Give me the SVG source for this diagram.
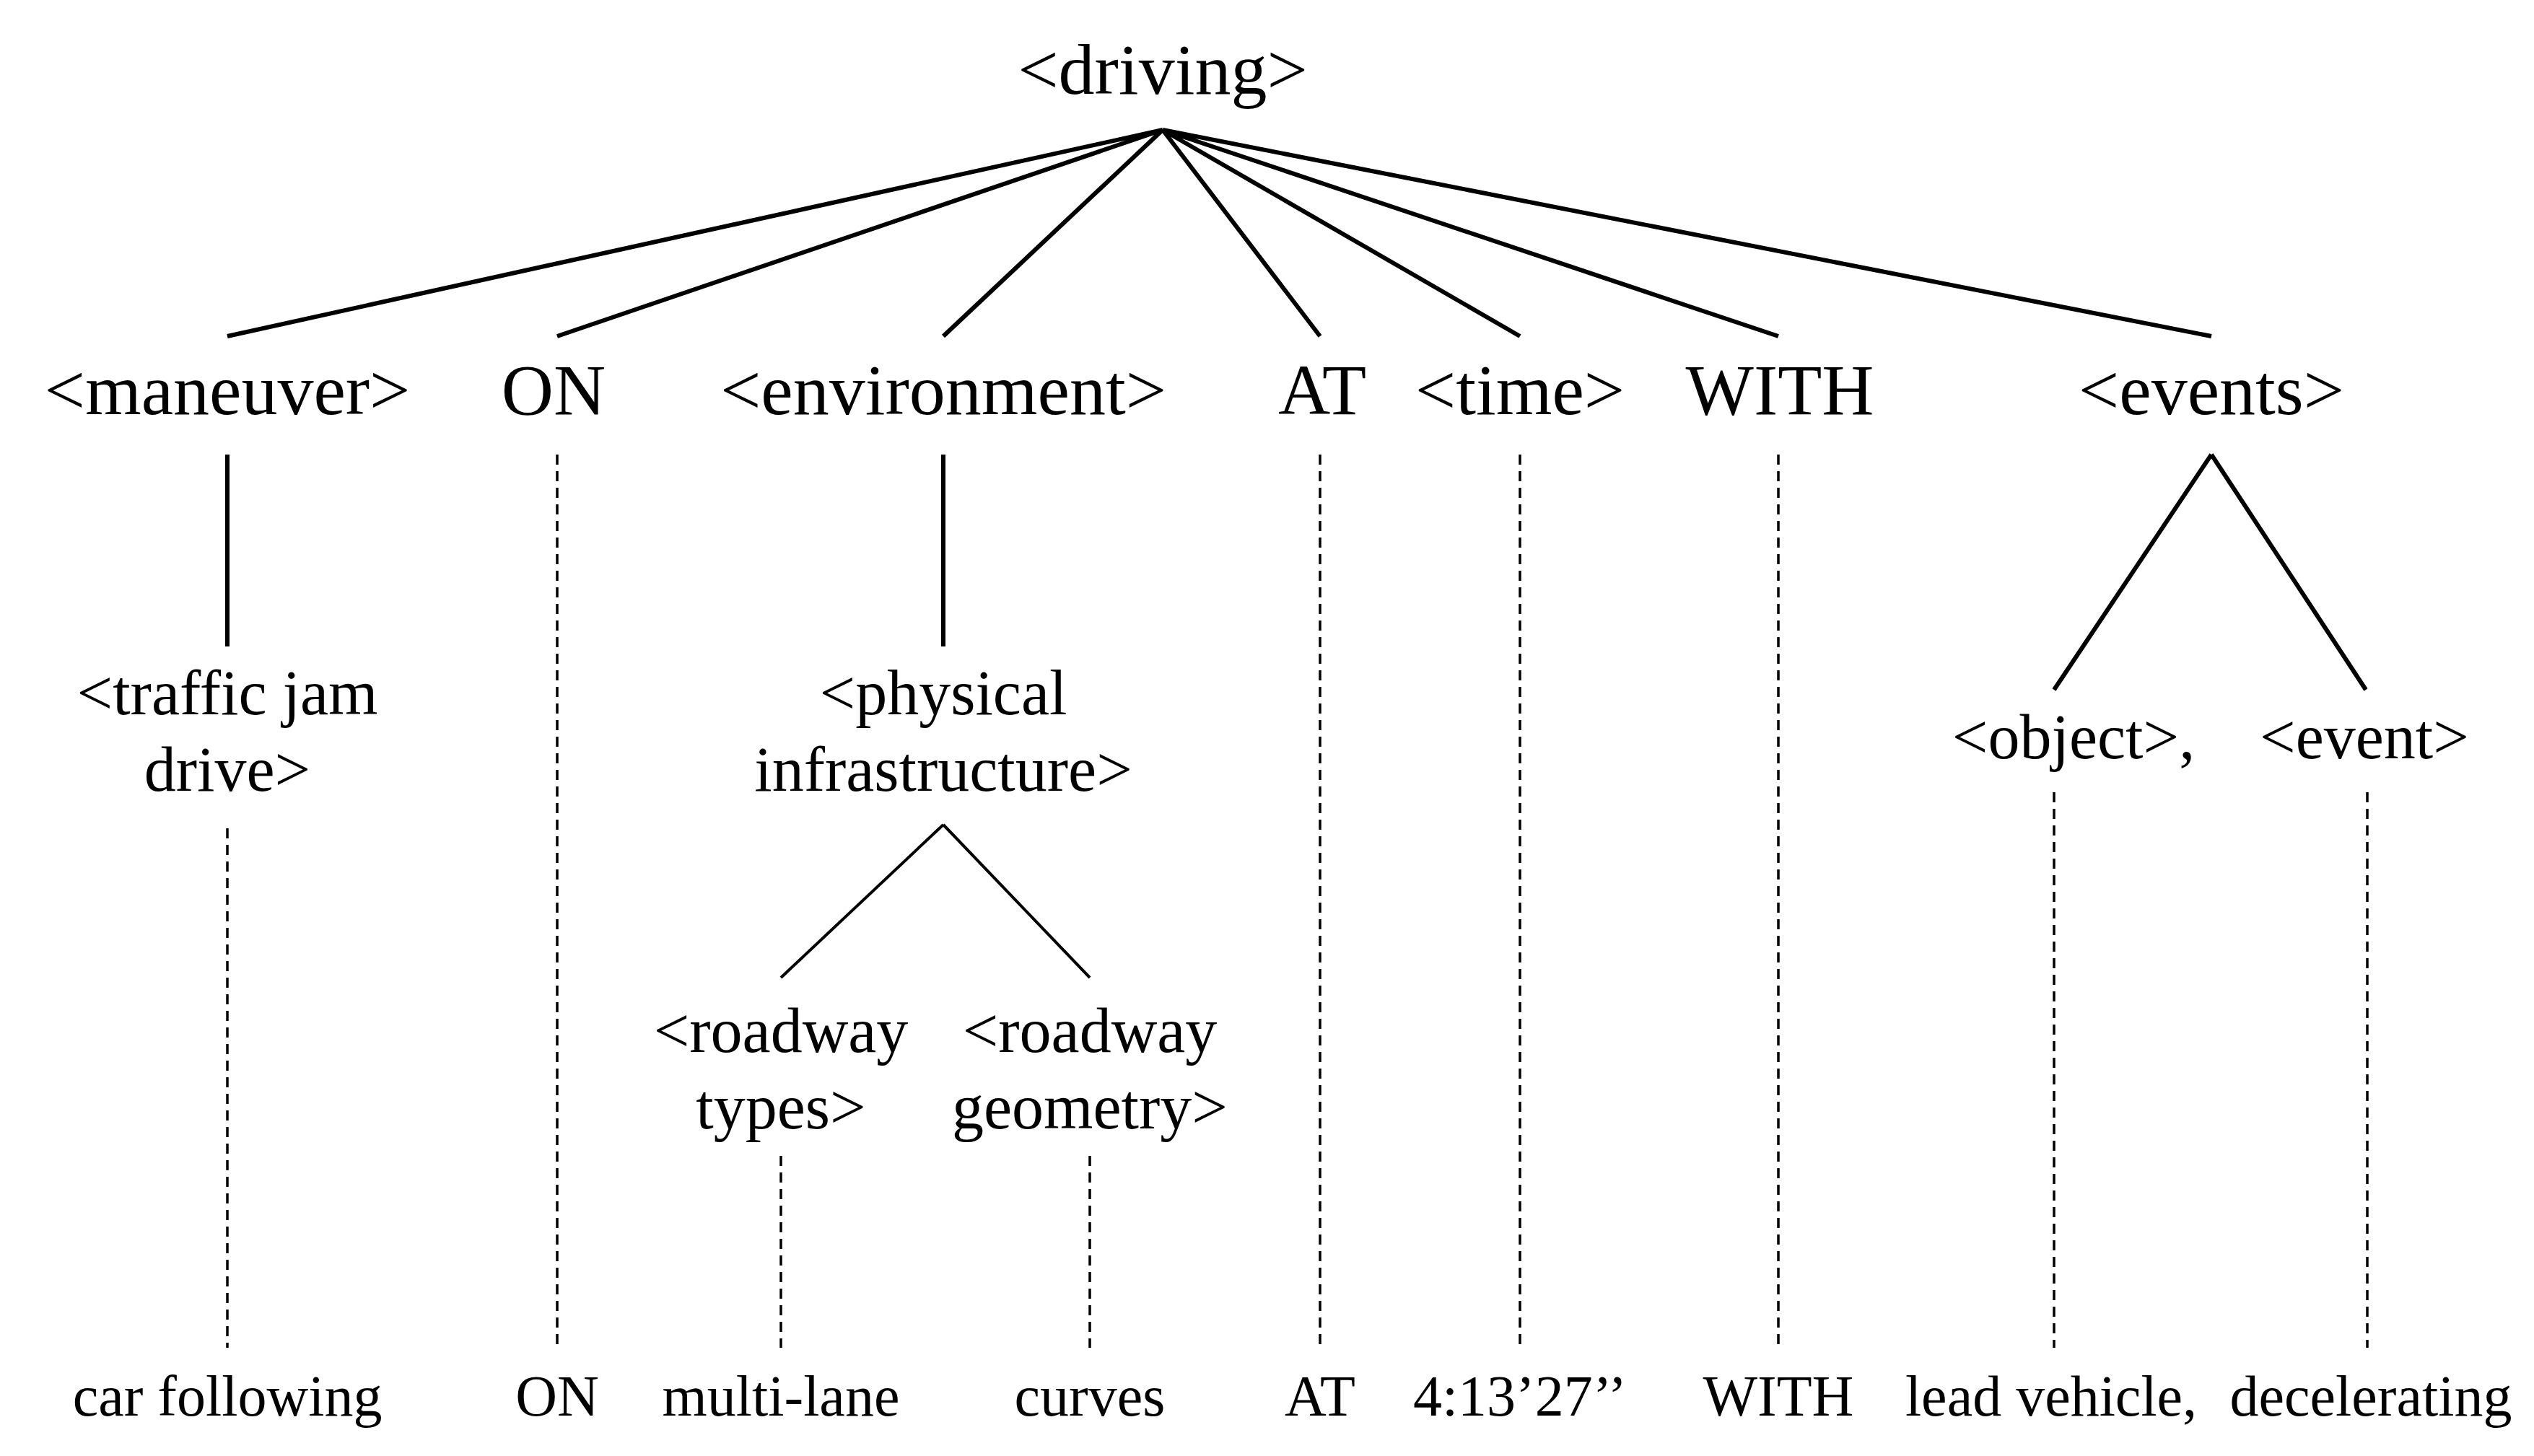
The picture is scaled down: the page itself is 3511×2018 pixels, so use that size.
<svg xmlns="http://www.w3.org/2000/svg" width="3511" height="2018" viewBox="0 0 3511 2018">
<style>
text{font-family:"Liberation Serif",serif;text-anchor:middle;fill:#000}
.b{font-size:100px}.s{font-size:80px}
.l{stroke:#000;stroke-width:6;fill:none}
.t{stroke:#000;stroke-width:4;fill:none}
.d{stroke:#000;stroke-width:3.5;stroke-dasharray:14 9;fill:none}
</style>
<rect width="3511" height="2018" fill="#fff"/>
<g id="connectors">
<path class="l" d="M1611 180L315 466M1611 180L772 466M1611 180L1307 466M1611 180L1829 466M1611 180L2106 466M1611 180L2464 466M1611 180L3064 466"/>
<path class="l" d="M315 630V896M1307 630V896M3064 630L2846 956M3064 630L3278 956"/>
<path class="t" d="M1307 1143L1082 1355M1307 1143L1510 1355"/>
<path class="d" d="M772 630V1868M1829 630V1868M2106 630V1868M2464 630V1868M315 1148V1868M1082 1602V1868M1510 1602V1868M2846 1098V1868M3280 1098V1868"/>
</g>
<g id="driving"><text class="b" x="1611" y="130">&lt;driving&gt;</text></g>
<g id="maneuver"><text class="b" x="315" y="574">&lt;maneuver&gt;</text></g>
<g id="on"><text class="b" x="767" y="574">ON</text></g>
<g id="environment"><text class="b" x="1307" y="574">&lt;environment&gt;</text></g>
<g id="at"><text class="b" x="1832" y="574">AT</text></g>
<g id="time"><text class="b" x="2106" y="574">&lt;time&gt;</text></g>
<g id="with"><text class="b" x="2466" y="574">WITH</text></g>
<g id="events"><text class="b" x="3064" y="574">&lt;events&gt;</text></g>
<g id="trafficjam"><text class="s" x="315" y="990" style="font-size:88px">&lt;traffic jam</text><text class="s" x="315" y="1096" style="font-size:88px">drive&gt;</text></g>
<g id="physical"><text class="s" x="1307" y="990" style="font-size:88px">&lt;physical</text><text class="s" x="1307" y="1096" style="font-size:88px">infrastructure&gt;</text></g>
<g id="roadwaytypes"><text class="s" x="1082" y="1458" style="font-size:88px">&lt;roadway</text><text class="s" x="1082" y="1564" style="font-size:88px">types&gt;</text></g>
<g id="roadwaygeometry"><text class="s" x="1510" y="1458" style="font-size:88px">&lt;roadway</text><text class="s" x="1510" y="1564" style="font-size:88px">geometry&gt;</text></g>
<g id="object"><text class="s" x="2873" y="1051" style="font-size:88px">&lt;object&gt;,</text></g>
<g id="event"><text class="s" x="3276" y="1051" style="font-size:88px">&lt;event&gt;</text></g>
<g id="bottom">
<text class="s" x="315" y="1962">car following</text>
<text class="s" x="772" y="1962">ON</text>
<text class="s" x="1082" y="1962">multi-lane</text>
<text class="s" x="1510" y="1962">curves</text>
<text class="s" x="1829" y="1962">AT</text>
<text class="s" x="2106" y="1962">4:13’27’’</text>
<text class="s" x="2464" y="1962">WITH</text>
<text class="s" x="2842" y="1962">lead vehicle,</text>
<text class="s" x="3285" y="1962">decelerating</text>
</g>
</svg>
